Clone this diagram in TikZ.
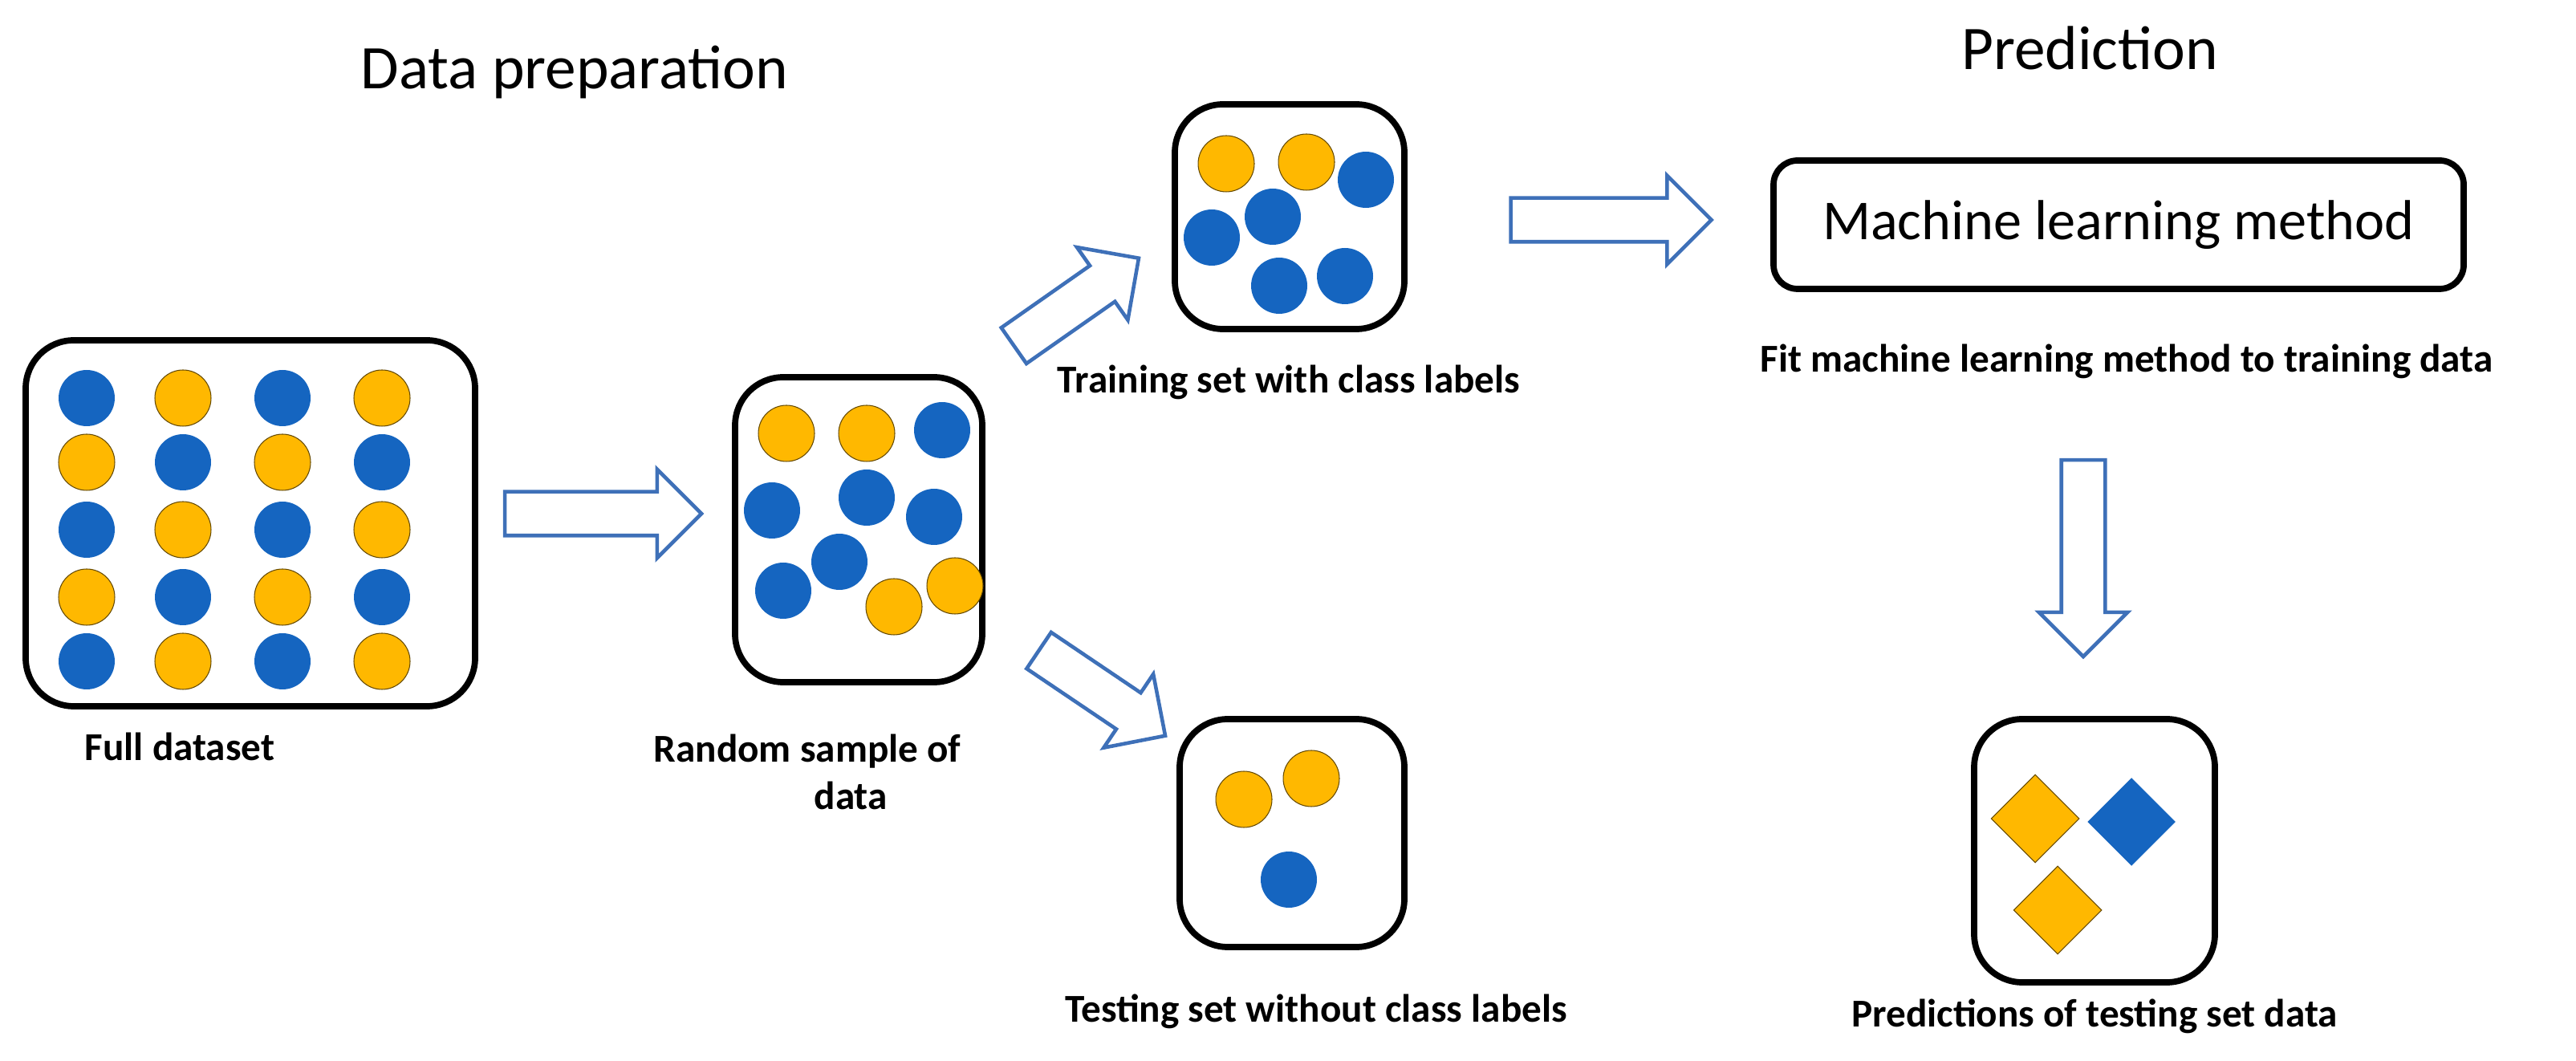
\documentclass[tikz,border=0pt]{standalone}
\usepackage{fontspec}
\setmainfont{Carlito}
\usetikzlibrary{shapes.arrows,shapes.geometric}
\definecolor{cb}{HTML}{1565C0}
\definecolor{cy}{HTML}{FFB800}
\definecolor{ab}{HTML}{3E70B8}
\tikzset{
 box/.style={draw=black,line width=2.2pt,rounded corners=0.6cm},
 B/.style={circle,fill=cb,minimum size=0.7cm,inner sep=0pt},
 Y/.style={circle,fill=cy,draw=black!60!cy,line width=0.3pt,minimum size=0.7cm,inner sep=0pt},
 lab/.style={font=\bfseries\fontsize{14}{17}\selectfont,align=center},
 head/.style={font=\fontsize{22}{26}\selectfont},
 arr/.style={single arrow,draw=ab,line width=1.3pt,fill=white,inner sep=0.25cm,text width=0pt,text height=0pt,text depth=0pt,single arrow head extend=0.28cm,single arrow head indent=0pt},
 dm/.style={diamond,minimum size=1.1cm,inner sep=0pt,line width=0.3pt}
}
\begin{document}
\begin{tikzpicture}[x=0.02cm,y=-0.02cm]
\useasboundingbox (0,0) rectangle (1605,661);
\node[head] (t1) at (358,45) {Data preparation};
\node[head] (t2) at (1302,30) {Prediction};
% full dataset
\draw[box] (16,212) rectangle (296,440);
\foreach \r/\y in {0/248,1/288,2/330,3/372,4/412}{
 \foreach \c/\x in {0/54,1/114,2/176,3/238}{
  \pgfmathtruncatemacro{\p}{mod(\r+\c,2)}
  \ifnum\p=0 \node[B] (f\r\c) at (\x,\y) {};\else \node[Y] (f\r\c) at (\x,\y) {};\fi
 }}
\node[lab] (lf) at (112,465) {Full dataset};
% random sample
\draw[box] (458,235) rectangle (612,425);
\node[Y] (r1) at (490,270) {};
\node[Y] (r2) at (540,270) {};
\node[B] (r3) at (587,268) {};
\node[B] (r4) at (481,318) {};
\node[B] (r5) at (540,310) {};
\node[B] (r6) at (582,322) {};
\node[B] (r7) at (523,350) {};
\node[B] (r8) at (488,368) {};
\node[Y] (r9) at (557,378) {};
\node[Y] (r10) at (595,365) {};
\node[lab] (lr) at (503,481) {Random sample of\\\hspace*{2.2em}data};
% training
\draw[box] (732,65) rectangle (875,205);
\node[Y] (a1) at (764,102) {};
\node[Y] (a2) at (814,101) {};
\node[B] (a3) at (851,112) {};
\node[B] (a4) at (793,135) {};
\node[B] (a5) at (755,148) {};
\node[B] (a6) at (797,178) {};
\node[B] (a7) at (838,172) {};
\node[lab] (la) at (803,238) {Training set with class labels};
% testing
\draw[box] (735,448) rectangle (875,590);
\node[Y] (b1) at (775,498) {};
\node[Y] (b2) at (817,485) {};
\node[B] (b3) at (803,548) {};
\node[lab] (lb) at (820,630) {Testing set without class labels};
% ML
\draw[draw=black,line width=2.2pt,rounded corners=0.3cm] (1105,100) rectangle (1535,180);
\node[font=\fontsize{20}{24}\selectfont] (ml) at (1320,140) {Machine learning method};
\node[lab] (lm) at (1325,225) {Fit machine learning method to training data};
% predictions
\draw[box] (1230,448) rectangle (1380,612);
\node[dm,fill=cy,draw=black!60!cy] (d1) at (1268,510) {};
\node[dm,fill=cb] (d2) at (1328,512) {};
\node[dm,fill=cy,draw=black!60!cy] (d3) at (1282,567) {};
\node[lab] (lp) at (1305,633) {Predictions of testing set data};
% arrows
\node[arr,minimum height=2.45cm] (A1) at (369,320) {};
\node[arr,minimum height=1.9cm,rotate=35] (A2) at (665,192) {};
\node[arr,minimum height=1.9cm,rotate=-34] (A3) at (681,428) {};
\node[arr,minimum height=2.5cm] (A4) at (997,137) {};
\node[arr,minimum height=2.45cm,rotate=-90] (A5) at (1298,341) {};
\end{tikzpicture}
\end{document}
